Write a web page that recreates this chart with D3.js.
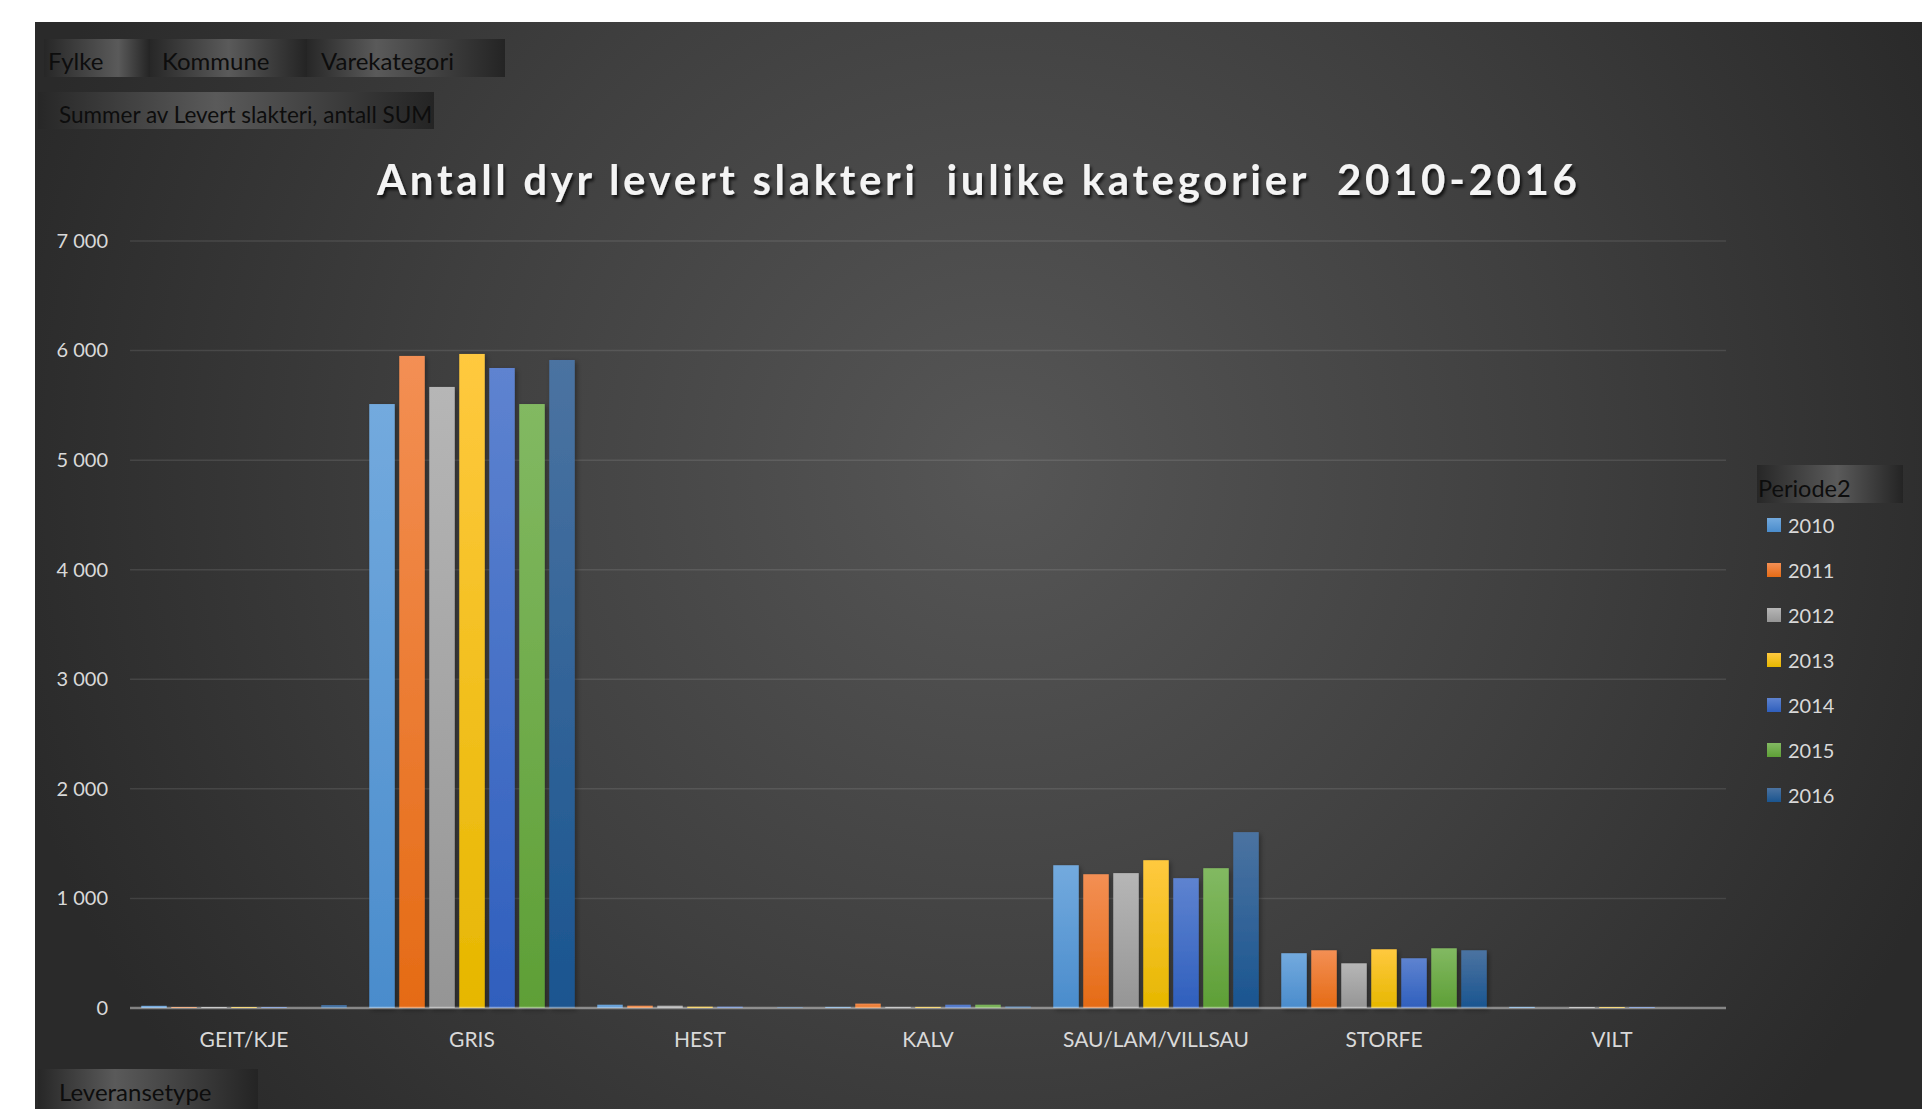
<!DOCTYPE html>
<html>
<head>
<meta charset="utf-8">
<script src="https://d3js.org/d3.v7.min.js"></script>
<style>
  body { margin: 0; background: #ffffff; }
  svg { display: block; font-family: Lato, "Open Sans", sans-serif; }
</style>
</head>
<body>
<svg id="chart"></svg>
<script>
d3.select(window).on('load', main);

// Data. One array per Leveransetype, one value per year.
var categories = ["GEIT/KJE", "GRIS", "HEST", "KALV", "SAU/LAM/VILLSAU", "STORFE", "VILT"]
var years = ["2010", "2011", "2012", "2013", "2014", "2015", "2016"]

var geitKje = [20, 9, 9, 9, 9, 0, 27]
var gris = [5512, 5951, 5668, 5969, 5841, 5512, 5914]
var hest = [30, 21, 21, 12, 12, 0, 8]
var kalv = [10, 40, 10, 10, 30, 30, 14]
var sauLam = [1303, 1221, 1231, 1349, 1185, 1276, 1605]
var storfe = [500, 527, 408, 536, 454, 545, 527]
var vilt = [10, 0, 9, 9, 9, 0, 0]

var yTicks = [0, 1000, 2000, 3000, 4000, 5000, 6000, 7000]

var titleText = "Antall dyr levert slakteri  iulike kategorier  2010-2016"
var filterButtons = ["Fylke", "Kommune", "Varekategori"]

// Office colours per year: [top of gradient, bottom of gradient]
var yearColors = [
  ["#73aade", "#4a8ccc"],
  ["#f38f54", "#e56b15"],
  ["#b6b6b6", "#959595"],
  ["#ffc93f", "#e6b700"],
  ["#5e83d0", "#2f5fbd"],
  ["#82b962", "#5e9f36"],
  ["#4b73a1", "#1a5590"]
]

// All the magic numbers for the layout
var vis = {
  "width": 1922,
  "height": 1109,
  "plot": { "left": 130, "right": 1726, "top": 241, "bottom": 1008 },
  "legend": { "x": 1767, "y": 518, "step": 45 },
  "btnCount": 0
}


function main() {
  var table = [geitKje, gris, hest, kalv, sauLam, storfe, vilt].map(function(vals, i) {
    return {
      "name": categories[i],
      "values": vals.map(function(v, j) { return { "year": years[j], "value": v } })
    }
  })
  visualize(table)
}


function visualize(table) {
  let svg = d3.select("#chart")
    .attr("width", vis.width)
    .attr("height", vis.height)

  let defs = svg.append("defs")
  vis.defs = defs

  // dark panel with a soft light spot in the middle
  let bg = defs.append("radialGradient")
    .attr("id", "bg")
    .attr("gradientUnits", "userSpaceOnUse")
    .attr("cx", 1000).attr("cy", 470).attr("r", 1020)
  bg.append("stop").attr("offset", 0).attr("stop-color", "#565656")
  bg.append("stop").attr("offset", 0.55).attr("stop-color", "#3f3f3f")
  bg.append("stop").attr("offset", 1).attr("stop-color", "#2a2a2a")

  // one vertical gradient per series
  years.forEach(function(y, i) {
    let g = defs.append("linearGradient")
      .attr("id", "g" + y)
      .attr("x1", 0).attr("y1", 0).attr("x2", 0).attr("y2", 1)
    g.append("stop").attr("offset", 0).attr("stop-color", yearColors[i][0])
    g.append("stop").attr("offset", 1).attr("stop-color", yearColors[i][1])
  })

  let shadow = defs.append("filter").attr("id", "shadow")
    .attr("x", "-20%").attr("y", "-20%").attr("width", "150%").attr("height", "150%")
  shadow.append("feDropShadow")
    .attr("dx", 2).attr("dy", 2).attr("stdDeviation", 2.5)
    .attr("flood-color", "#000").attr("flood-opacity", 0.35)

  let titleShadow = defs.append("filter").attr("id", "tshadow")
  titleShadow.append("feDropShadow")
    .attr("dx", 2).attr("dy", 3).attr("stdDeviation", 1.6)
    .attr("flood-color", "#000").attr("flood-opacity", 0.7)

  svg.append("rect")
    .attr("x", 35).attr("y", 22)
    .attr("width", vis.width - 35).attr("height", vis.height - 22)
    .attr("fill", "url(#bg)")

  // Scales
  let x0 = d3.scaleBand()
    .domain(categories)
    .range([vis.plot.left, vis.plot.right])

  let x1 = d3.scaleBand()
    .domain(years)
    .range([0, x0.bandwidth()])
    .paddingInner(0.15)
    .paddingOuter(0.375)

  let y = d3.scaleLinear()
    .domain([0, 7000])
    .range([vis.plot.bottom, vis.plot.top])

  let nb = d3.formatLocale({ "decimal": ",", "thousands": " ", "grouping": [3], "currency": ["", ""] })

  // background grid lines
  svg.append("g")
    .selectAll("line")
    .data(yTicks.slice(1))
    .enter()
    .append("line")
    .attr("x1", vis.plot.left)
    .attr("x2", vis.plot.right)
    .attr("y1", function(d) { return y(d) })
    .attr("y2", function(d) { return y(d) })
    .attr("stroke", "#ffffff")
    .attr("stroke-opacity", 0.1)
    .attr("stroke-width", 1.5)

  // y axis labels
  let yAxis = svg.append("g")
    .attr("transform", "translate(" + vis.plot.left + ",0)")
    .call(d3.axisLeft(y).tickValues(yTicks).tickSize(0).tickPadding(22).tickFormat(nb.format(",d")))
  yAxis.select(".domain").remove()
  yAxis.selectAll("text")
    .attr("fill", "#d9d9d9")
    .style("font-size", "20px")
    .style("font-family", "Lato")

  // bars, grouped per category
  svg.append("g")
    .selectAll("g")
    .data(table)
    .enter()
    .append("g")
    .attr("transform", function(d) { return "translate(" + x0(d.name) + ",0)" })
    .selectAll("rect")
    .data(function(d) { return d.values.filter(function(v) { return v.value > 0 }) })
    .enter()
    .append("rect")
    .attr("x", function(d) { return x1(d.year) })
    .attr("y", function(d) { return y(d.value) })
    .attr("width", x1.bandwidth())
    .attr("height", function(d) { return y(0) - y(d.value) })
    .attr("fill", function(d) { return "url(#g" + d.year + ")" })
    .attr("filter", function(d) { return d.value > 100 ? "url(#shadow)" : null })

  // zero line drawn on top of the bars
  svg.append("line")
    .attr("x1", vis.plot.left)
    .attr("x2", vis.plot.right)
    .attr("y1", y(0))
    .attr("y2", y(0))
    .attr("stroke", "#ffffff")
    .attr("stroke-opacity", 0.42)
    .attr("stroke-width", 2.6)

  // category labels
  let xAxis = svg.append("g")
    .attr("transform", "translate(0," + y(0) + ")")
    .call(d3.axisBottom(x0).tickSize(0).tickPadding(24))
  xAxis.select(".domain").remove()
  xAxis.selectAll("text")
    .attr("fill", "#d9d9d9")
    .style("font-size", "21px")
    .style("font-family", "Lato")

  // title
  svg.append("text")
    .attr("x", 377)
    .attr("y", 195)
    .attr("textLength", 1200)
    .attr("lengthAdjust", "spacing")
    .attr("fill", "#f4f4f4")
    .attr("filter", "url(#tshadow)")
    .style("font-size", "42px")
    .style("font-weight", "bold")
    .style("white-space", "pre")
    .text(titleText)

  // filter buttons top left
  let btnX = [44, 150, 307, 505]
  let peaks = [0.7, 0.5, 0.35]
  let textX = [48, 162, 321]
  filterButtons.forEach(function(name, i) {
    fieldButton(svg, name, btnX[i], 39, btnX[i + 1] - btnX[i], 38, textX[i], 70, 24, peaks[i])
  })

  fieldButton(svg, "Summer av Levert slakteri, antall SUM", 38, 92, 396, 37, 59, 123, 22.5, 0.45)
  fieldButton(svg, "Leveransetype", 38, 1069, 220, 40, 59, 1101, 24, 0.35)
  fieldButton(svg, "Periode2", 1757, 465, 146, 38, 1758, 497, 23.5, 0.55)

  // legend
  let legend = svg.append("g")
    .selectAll("g")
    .data(years)
    .enter()
    .append("g")
    .attr("transform", function(d, i) { return "translate(" + vis.legend.x + "," + (vis.legend.y + i * vis.legend.step) + ")" })
  legend.append("rect")
    .attr("width", 14)
    .attr("height", 14)
    .attr("fill", function(d) { return "url(#g" + d + ")" })
  legend.append("text")
    .attr("x", 21)
    .attr("y", 15)
    .attr("fill", "#d9d9d9")
    .style("font-size", "20px")
    .text(function(d) { return d })
}


/* helper for the grey pivot field buttons, lighter where "peak" is */
function fieldButton(svg, label, x, yPos, w, h, tx, ty, size, peak) {
  let id = "btn" + (vis.btnCount++)
  let g = vis.defs.append("linearGradient")
    .attr("id", id)
    .attr("x1", 0).attr("y1", 0).attr("x2", 1).attr("y2", 0)
  g.append("stop").attr("offset", 0).attr("stop-color", "#272727")
  g.append("stop").attr("offset", peak).attr("stop-color", "#5a5a5a")
  g.append("stop").attr("offset", 1).attr("stop-color", "#242424")

  svg.append("rect")
    .attr("x", x).attr("y", yPos)
    .attr("width", w).attr("height", h)
    .attr("fill", "url(#" + id + ")")
  svg.append("text")
    .attr("x", tx).attr("y", ty)
    .attr("fill", "#0d0d0d")
    .style("font-size", size + "px")
    .text(label)
}
</script>
</body>
</html>
